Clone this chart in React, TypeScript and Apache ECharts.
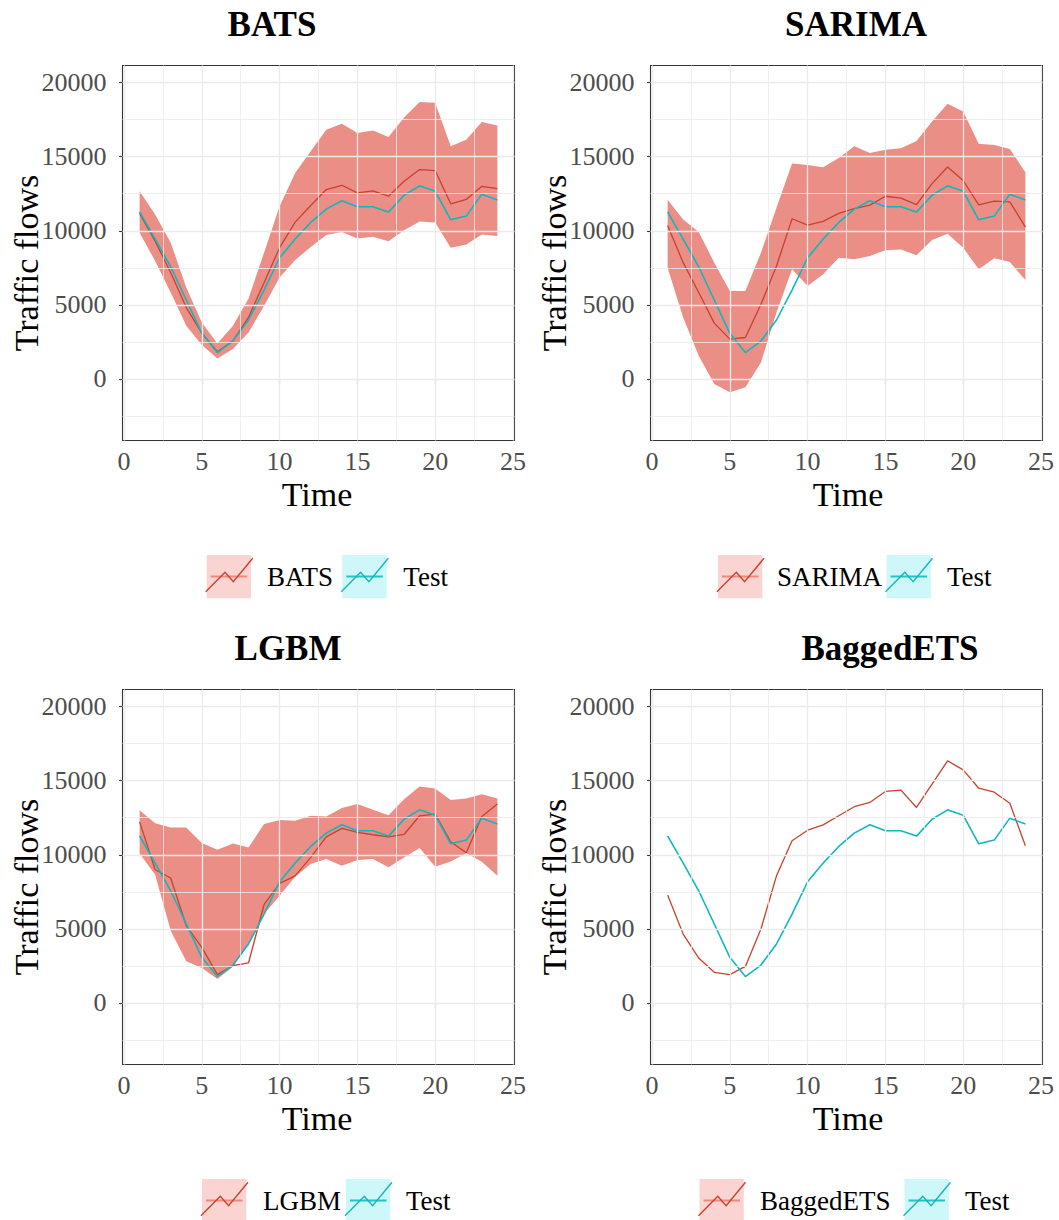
import React, { useEffect, useRef } from "react";
import * as echarts from "echarts";

// ---------------- data ----------------
const timeSteps = [1, 2, 3, 4, 5, 6, 7, 8, 9, 10, 11, 12, 13, 14, 15, 16, 17, 18, 19, 20, 21, 22, 23, 24];

const testValues = [11280, 9440, 7570, 5330, 3080, 1780, 2560, 3980, 6000, 8180, 9440, 10560, 11460, 12020, 11620, 11620, 11260, 12400, 13030, 12670, 10740, 10990, 12470, 12070];

const batsFc = [11170, 9300, 7170, 4820, 3090, 1840, 2580, 4150, 6500, 8860, 10580, 11700, 12780, 13070, 12560, 12690, 12330, 13340, 14130, 14060, 11820, 12110, 13000, 12850];
const batsHi = [12670, 11100, 9190, 6170, 3810, 2400, 3590, 5430, 8520, 11660, 13900, 15360, 16820, 17220, 16590, 16770, 16320, 17650, 18680, 18630, 15700, 16140, 17330, 17110];
const batsLo = [9870, 7960, 5830, 3590, 2290, 1390, 2020, 3140, 4930, 6840, 8030, 8900, 9710, 9910, 9480, 9600, 9300, 10040, 10630, 10560, 8860, 9080, 9750, 9640];

const sarimaFc = [10360, 7850, 5830, 3770, 2690, 2800, 5040, 7620, 10810, 10380, 10630, 11170, 11500, 11730, 12330, 12200, 11770, 13180, 14300, 13390, 11750, 12000, 11950, 10250];
const sarimaHi = [12100, 10760, 9910, 7850, 5940, 5940, 8520, 11550, 14530, 14440, 14280, 14910, 15700, 15250, 15470, 15560, 16050, 17380, 18570, 18050, 15870, 15780, 15520, 13950];
const sarimaLo = [7510, 4150, 1570, -340, -900, -560, 1120, 4480, 7400, 6280, 7060, 8180, 8070, 8300, 8680, 8740, 8340, 9370, 9800, 8860, 7400, 8140, 7890, 6680];

const lgbmFc = [12220, 8990, 8430, 5210, 3750, 1910, 2520, 2700, 6630, 8070, 8580, 9820, 11210, 11780, 11510, 11350, 11210, 11370, 12630, 12740, 10880, 10130, 12580, 13420];
const lgbmHi = [13010, 12130, 11840, 11840, 10790, 10340, 10760, 10490, 12070, 12340, 12290, 12630, 12580, 13150, 13420, 13030, 12670, 13750, 14610, 14470, 13690, 13800, 14090, 13800];
const lgbmLo = [10090, 8650, 4880, 2810, 2360, 1620, 2450, 3980, 6000, 7240, 8520, 9370, 9710, 9260, 9640, 9710, 9150, 9820, 10450, 9190, 9550, 10110, 9530, 8580];

const baggedFc = [7280, 4650, 3030, 2070, 1910, 2470, 4990, 8580, 10940, 11660, 12020, 12630, 13240, 13530, 14270, 14360, 13190, 14760, 16340, 15730, 14490, 14220, 13480, 10610];

const xTicks = [0, 5, 10, 15, 20, 25];
const xMinor = [2.5, 7.5, 12.5, 17.5, 22.5];
const yTicks = [0, 5000, 10000, 15000, 20000];
const yMinor = [-2500, 2500, 7500, 12500, 17500];

const modelNames = ["BATS", "SARIMA", "LGBM", "BaggedETS"];
const forecasts = [batsFc, sarimaFc, lgbmFc, baggedFc];
const upperBands = [batsHi, sarimaHi, lgbmHi, null];
const lowerBands = [batsLo, sarimaLo, lgbmLo, null];

// ---------------- layout / style ----------------
const FONT = '"Liberation Serif", "DejaVu Serif", serif';
const RED = "#C9412F";
const CYAN = "#10B7BB";
const BAND = "#EA8E86";
const GRIDC = "#EBEBEB";

const layout = [
  { left: 122.5, top: 65.5, titleX: 272, nameX: 26, timeX: 317, legend: [206.7, 267, 342.3, 403.3] },
  { left: 650.5, top: 65.5, titleX: 856, nameX: 554, timeX: 848, legend: [718, 777, 886.5, 947] },
  { left: 122.5, top: 689.5, titleX: 288, nameX: 26, timeX: 317, legend: [202, 263, 346, 406] },
  { left: 650.5, top: 689.5, titleX: 890, nameX: 554, timeX: 848, legend: [699.5, 760, 904.5, 965] },
];
const PW = 392;
const PH = 375;

function legendItems(bx: number, tx: number, by: number, label: string, boxFill: string, midStroke: string, zig: string) {
  return [
    { type: "rect", shape: { x: bx, y: by, width: 44.3, height: 43.3 }, style: { fill: boxFill } },
    { type: "line", shape: { x1: bx + 4, y1: by + 21.5, x2: bx + 40.5, y2: by + 21.5 }, style: { stroke: midStroke, lineWidth: 2 } },
    {
      type: "polyline",
      shape: { points: [[bx - 1, by + 36.7], [bx + 18.3, by + 17.3], [bx + 26.6, by + 26.7], [bx + 46, by + 3.3]] },
      style: { stroke: zig, lineWidth: 1.4, fill: null },
    },
    {
      type: "text",
      x: tx,
      y: by + 22,
      style: { text: label, fontFamily: FONT, fontSize: 27, fill: "#000", align: "left", verticalAlign: "middle" },
    },
  ];
}

function buildOption() {
  const grid: any[] = [];
  const xAxis: any[] = [];
  const yAxis: any[] = [];
  const series: any[] = [];
  const graphic: any[] = [];

  layout.forEach((L, i) => {
    grid.push({ left: L.left, top: L.top, width: PW, height: PH, show: true, borderColor: "#333333", borderWidth: 1.1, backgroundColor: "transparent" });
    xAxis.push({
      type: "value",
      gridIndex: i,
      min: -0.1,
      max: 25.1,
      splitLine: { show: false },
      axisLine: { show: false },
      axisTick: { show: true, customValues: xTicks, length: 5, lineStyle: { color: "#333333", width: 1.1 } },
      axisLabel: { customValues: xTicks, color: "#4D4D4D", fontFamily: FONT, fontSize: 26, margin: 8, formatter: (v: number) => String(v) },
    });
    yAxis.push({
      type: "value",
      gridIndex: i,
      min: -4150,
      max: 21150,
      splitLine: { show: false },
      axisLine: { show: false },
      axisTick: { show: true, customValues: yTicks, length: 5, lineStyle: { color: "#333333", width: 1.1 } },
      axisLabel: { customValues: yTicks, color: "#4D4D4D", fontFamily: FONT, fontSize: 26, margin: 16, formatter: (v: number) => String(v) },
    });

    // panel grid lines through the axes' scales
    const ml: any[] = [];
    yMinor.forEach((v) => ml.push({ yAxis: v, lineStyle: { width: 0.8 } }));
    xMinor.forEach((v) => ml.push({ xAxis: v, lineStyle: { width: 0.8 } }));
    yTicks.forEach((v) => ml.push({ yAxis: v, lineStyle: { width: 1.3 } }));
    xTicks.forEach((v) => ml.push({ xAxis: v, lineStyle: { width: 1.3 } }));
    series.push({
      type: "line",
      xAxisIndex: i,
      yAxisIndex: i,
      data: [[timeSteps[0], testValues[0]]],
      symbol: "none",
      lineStyle: { opacity: 0 },
      silent: true,
      z: 1,
      markLine: {
        silent: true,
        symbol: ["none", "none"],
        label: { show: false },
        lineStyle: { type: "solid", color: GRIDC, width: 1 },
        emphasis: { disabled: true },
        animation: false,
        data: ml,
      },
    });

    const hi = upperBands[i];
    const lo = lowerBands[i];
    if (hi && lo) {
      series.push({
        type: "custom",
        xAxisIndex: i,
        yAxisIndex: i,
        data: timeSteps.map((t, k) => [t, lo[k], hi[k]]),
        encode: { x: 0, y: [1, 2] },
        silent: true,
        z: 2,
        renderItem: (params: any, api: any) => {
          if (params.dataIndex !== 0) return null;
          const upper = timeSteps.map((t, k) => api.coord([t, hi[k]]));
          const lower = timeSteps.map((t, k) => api.coord([t, lo[k]])).reverse();
          return {
            type: "polygon",
            shape: { points: upper.concat(lower) },
            style: { fill: BAND, stroke: "none" },
          };
        },
      });
    }
    series.push({
      type: "line",
      name: modelNames[i],
      xAxisIndex: i,
      yAxisIndex: i,
      data: timeSteps.map((t, k) => [t, forecasts[i][k]]),
      symbol: "none",
      lineStyle: { color: RED, width: 1.3 },
      silent: true,
      z: 3,
    });
    series.push({
      type: "line",
      name: "Test",
      xAxisIndex: i,
      yAxisIndex: i,
      data: timeSteps.map((t, k) => [t, testValues[k]]),
      symbol: "none",
      lineStyle: { color: CYAN, width: 1.6 },
      silent: true,
      z: 4,
    });

    const dy = i >= 2 ? 624 : 0;
    graphic.push({
      type: "text",
      x: L.titleX,
      y: 24 + dy,
      style: { text: modelNames[i], fontFamily: FONT, fontSize: 35, fontWeight: "bold", fill: "#000", align: "center", verticalAlign: "middle" },
    });
    graphic.push({
      type: "text",
      x: L.nameX,
      y: 263 + dy,
      rotation: Math.PI / 2,
      style: { text: "Traffic flows", fontFamily: FONT, fontSize: 34, fill: "#000", align: "center", verticalAlign: "middle" },
    });
    graphic.push({
      type: "text",
      x: L.timeX,
      y: 494 + dy,
      style: { text: "Time", fontFamily: FONT, fontSize: 34, fill: "#000", align: "center", verticalAlign: "middle" },
    });
    const by = 555 + dy;
    const [b1, t1, b2, t2] = L.legend;
    graphic.push(...legendItems(b1, t1, by, modelNames[i], "#FAD4D1", "#F2877E", RED));
    graphic.push(...legendItems(b2, t2, by, "Test", "#CDF7F8", "#22C4C8", CYAN));
  });

  return { animation: false, backgroundColor: "#ffffff", grid, xAxis, yAxis, series, graphic };
}

export default function App() {
  const ref = useRef<HTMLDivElement>(null);
  useEffect(() => {
    if (!ref.current) return;
    const chart = echarts.init(ref.current, null, { renderer: "svg" });
    chart.setOption(buildOption() as any);
    return () => chart.dispose();
  }, []);
  return <div ref={ref} style={{ position: "absolute", left: 0, top: 0, width: 1059, height: 1220, background: "#fff" }} />;
}
